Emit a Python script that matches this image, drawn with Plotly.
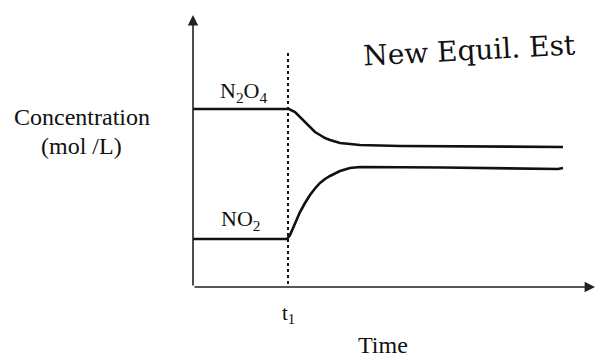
import plotly.graph_objects as go

# ---- data (time in arbitrary units, concentration in arbitrary units) ----
t_n2o4 = [0, 9.6, 10.2, 10.7, 11.2, 11.7, 12.2, 12.7, 13.2, 13.7, 14.7, 15.7, 16.7, 20.7, 37.0]
c_n2o4 = [17.8, 17.8, 17.5, 17.0, 16.4, 15.9, 15.5, 15.2, 14.9, 14.7, 14.4, 14.3, 14.2, 14.1, 14.0]

t_no2 = [0, 9.4, 9.7, 10.2, 10.7, 11.2, 11.7, 12.2, 12.7, 13.2, 13.7, 14.7, 15.7, 16.7, 20.7, 25.0, 36.5, 37.0]
c_no2 = [4.8, 4.8, 5.2, 6.4, 7.5, 8.4, 9.2, 9.85, 10.4, 10.8, 11.1, 11.6, 11.9, 12.0, 12.0, 11.95, 11.8, 11.9]

t1 = 9.5
t1_line_top = 23.7
x_max = 40.2
y_max = 27.2

serif = "Liberation Serif, Times New Roman, serif"

fig = go.Figure()

# dotted vertical marker at t1
fig.add_trace(go.Scatter(x=[t1, t1], y=[-0.3, t1_line_top], mode="lines",
                         line=dict(color="#111", width=2, dash="dot"),
                         hoverinfo="skip", showlegend=False, cliponaxis=False))

fig.add_trace(go.Scatter(x=t_n2o4, y=c_n2o4, mode="lines", name="N2O4",
                         line=dict(color="#111", width=2.6), showlegend=False))
fig.add_trace(go.Scatter(x=t_no2, y=c_no2, mode="lines", name="NO2",
                         line=dict(color="#111", width=2.6), showlegend=False))

L, T, W, H = 193, 15, 402, 272


def px(xp, yp):
    return (xp - L) / W, (T + H - yp) / H


def label(xp, yp, text, size, family=serif, **kw):
    x, y = px(xp, yp)
    d = dict(x=x, y=y, xref="paper", yref="paper", text=text, showarrow=False,
             xanchor="center", yanchor="middle",
             font=dict(family=family, size=size, color="#111"))
    d.update(kw)
    return d


annotations = [
    # axes with arrow heads
    dict(x=0, y=y_max, ax=0, ay=0, xref="x", yref="y", axref="x", ayref="y",
         showarrow=True, arrowhead=2, arrowsize=1.3, arrowwidth=1.6, arrowcolor="#222", text=""),
    dict(x=x_max, y=0, ax=0, ay=0, xref="x", yref="y", axref="x", ayref="y",
         showarrow=True, arrowhead=2, arrowsize=1.3, arrowwidth=1.6, arrowcolor="#222", text=""),
    # labels
    label(82, 117, "Concentration", 24),
    label(82, 146, "(mol /L)", 24),
    label(383, 345, "Time", 24),
    label(288, 314, "t<sub>1</sub>", 21),
    label(243, 92, "N<sub>2</sub>O<sub>4</sub>", 22),
    label(240, 220, "NO<sub>2</sub>", 22),
    label(360, 50, "New Equil. Est", 28, family="DejaVu Serif", xanchor="left", textangle=-3),
]

fig.update_layout(
    width=595, height=358,
    margin=dict(l=L, r=0, t=T, b=358 - T - H),
    paper_bgcolor="white", plot_bgcolor="white",
    xaxis=dict(range=[0, x_max], visible=False, fixedrange=True),
    yaxis=dict(range=[0, y_max], visible=False, fixedrange=True),
    annotations=annotations,
    showlegend=False,
)

fig.write_html("out.html", config={"displayModeBar": False},
               post_script="document.body.style.margin='0';")
